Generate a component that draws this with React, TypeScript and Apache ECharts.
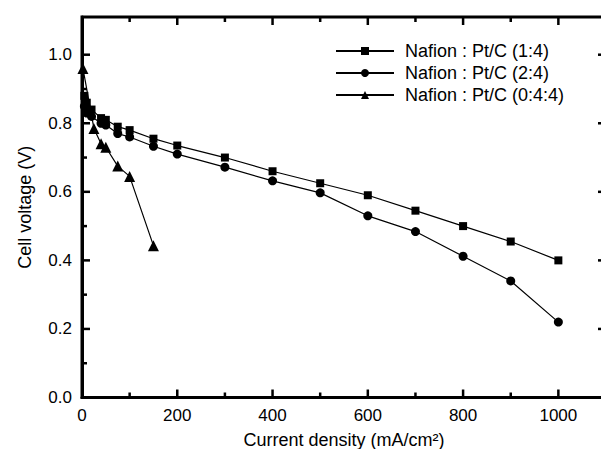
import React, { useEffect, useRef } from "react";
import * as echarts from "echarts";

const s1Name = "Nafion : Pt/C (1:4)";
const s2Name = "Nafion : Pt/C (2:4)";
const s3Name = "Nafion : Pt/C (0:4:4)";

const s1X = [5, 10, 20, 40, 50, 75, 100, 150, 200, 300, 400, 500, 600, 700, 800, 900, 1000];
const s1Y = [0.88, 0.86, 0.84, 0.815, 0.81, 0.79, 0.78, 0.755, 0.735, 0.70, 0.66, 0.625, 0.59, 0.545, 0.50, 0.455, 0.40];

const s2X = [5, 10, 20, 40, 50, 75, 100, 150, 200, 300, 400, 500, 600, 700, 800, 900, 1000];
const s2Y = [0.85, 0.83, 0.82, 0.80, 0.795, 0.77, 0.76, 0.733, 0.71, 0.672, 0.632, 0.597, 0.53, 0.484, 0.412, 0.34, 0.22];

const s3X = [2, 25, 40, 50, 75, 100, 150];
const s3Y = [0.96, 0.785, 0.74, 0.73, 0.675, 0.645, 0.443];

const yTicks = [0, 0.2, 0.4, 0.6, 0.8, 1.0];
const xTicks = [0, 200, 400, 600, 800, 1000];
const xMajorTicks = [200, 400, 600, 800, 1000];
const xMinorTicks = [100, 300, 500, 700, 900];
const yMajorTicks = [0.2, 0.4, 0.6, 0.8, 1.0];
const yMinorTicks = [0.1, 0.3, 0.5, 0.7, 0.9];

const X_MAX = 1100;
const Y_MAX = 1.11;

const FONT = "'Liberation Sans', Arial, sans-serif";

function zip(xs: number[], ys: number[]) {
  return xs.map((x, i) => [x, ys[i]]);
}

export default function App() {
  const ref = useRef<HTMLDivElement>(null);
  useEffect(() => {
    if (!ref.current) return;
    const chart = echarts.init(ref.current, undefined, { renderer: "svg" });
    const axisLine = () => ({ show: true, onZero: false, lineStyle: { color: "#000", width: 3 } });
    const tickStyle = { stroke: "#000", lineWidth: 2.5 };
    const lineSeries = (name: string, data: number[][], symbol: string, size: number) => ({
      name,
      type: "line",
      data,
      symbol,
      symbolSize: size,
      itemStyle: { color: "#000" },
      lineStyle: { color: "#000", width: 1.2 },
      showSymbol: true,
    });
    const xTickSeries = (vals: number[], len: number) => ({
      type: "custom",
      data: vals.map((v) => [v, 0]),
      silent: true,
      clip: false,
      z: 5,
      renderItem: (_p: any, api: any) => {
        const v = api.value(0);
        const b = api.coord([v, 0]);
        const t = api.coord([v, Y_MAX]);
        return {
          type: "group",
          children: [
            { type: "line", shape: { x1: b[0], y1: b[1], x2: b[0], y2: b[1] - len }, style: tickStyle },
            { type: "line", shape: { x1: t[0], y1: t[1], x2: t[0], y2: t[1] + len }, style: tickStyle },
          ],
        };
      },
    });
    const yTickSeries = (vals: number[], len: number) => ({
      type: "custom",
      data: vals.map((v) => [0, v]),
      silent: true,
      clip: false,
      z: 5,
      renderItem: (_p: any, api: any) => {
        const v = api.value(1);
        const l = api.coord([0, v]);
        const r = api.coord([X_MAX, v]);
        return {
          type: "group",
          children: [
            { type: "line", shape: { x1: l[0], y1: l[1], x2: l[0] + len, y2: l[1] }, style: tickStyle },
            { type: "line", shape: { x1: r[0], y1: r[1], x2: r[0] - len, y2: r[1] }, style: tickStyle },
          ],
        };
      },
    });
    chart.setOption({
      animation: false,
      backgroundColor: "#fff",
      textStyle: { fontFamily: FONT },
      grid: {
        left: 82,
        top: 17,
        width: 524,
        height: 380.5,
        outerBoundsMode: "none",
        containLabel: false,
        show: true,
        borderColor: "#000",
        borderWidth: 3,
        backgroundColor: "transparent",
      },
      legend: {
        orient: "vertical",
        left: 330,
        top: 37,
        itemWidth: 58,
        itemHeight: 10,
        itemGap: 4,
        textStyle: { fontSize: 18, color: "#000", fontFamily: FONT, padding: [0, 0, 0, 6] },
        data: [s1Name, s2Name, s3Name],
      },
      xAxis: {
        type: "value",
        position: "bottom",
        min: 0,
        max: X_MAX,
        interval: 200,
        axisLine: axisLine(),
        axisTick: { show: false },
        splitLine: { show: false },
        axisLabel: {
          color: "#000",
          fontSize: 17,
          margin: 9,
          formatter: (v: number) => (xTicks.includes(v) ? String(v) : ""),
        },
        name: "Current density (mA/cm²)",
        nameLocation: "middle",
        nameGap: 33,
        nameTextStyle: { fontSize: 18, color: "#000" },
      },
      yAxis: {
        type: "value",
        position: "left",
        min: 0,
        max: Y_MAX,
        interval: 0.2,
        axisLine: axisLine(),
        axisTick: { show: false },
        splitLine: { show: false },
        axisLabel: {
          color: "#000",
          fontSize: 17,
          margin: 10,
          formatter: (v: number) =>
            yTicks.some((t) => Math.abs(t - v) < 1e-6) ? v.toFixed(1) : "",
        },
        name: "Cell voltage (V)",
        nameLocation: "middle",
        nameGap: 48,
        nameTextStyle: { fontSize: 18, color: "#000" },
      },
      series: [
        xTickSeries(xMajorTicks, 8),
        xTickSeries(xMinorTicks, 5),
        yTickSeries(yMajorTicks, 8),
        yTickSeries(yMinorTicks, 5),
        lineSeries(s1Name, zip(s1X, s1Y), "rect", 8),
        lineSeries(s2Name, zip(s2X, s2Y), "circle", 9),
        lineSeries(s3Name, zip(s3X, s3Y), "triangle", 11),
      ],
    });
    return () => chart.dispose();
  }, []);
  return <div ref={ref} style={{ width: 601, height: 449, position: "absolute", left: 0, top: 0 }} />;
}
